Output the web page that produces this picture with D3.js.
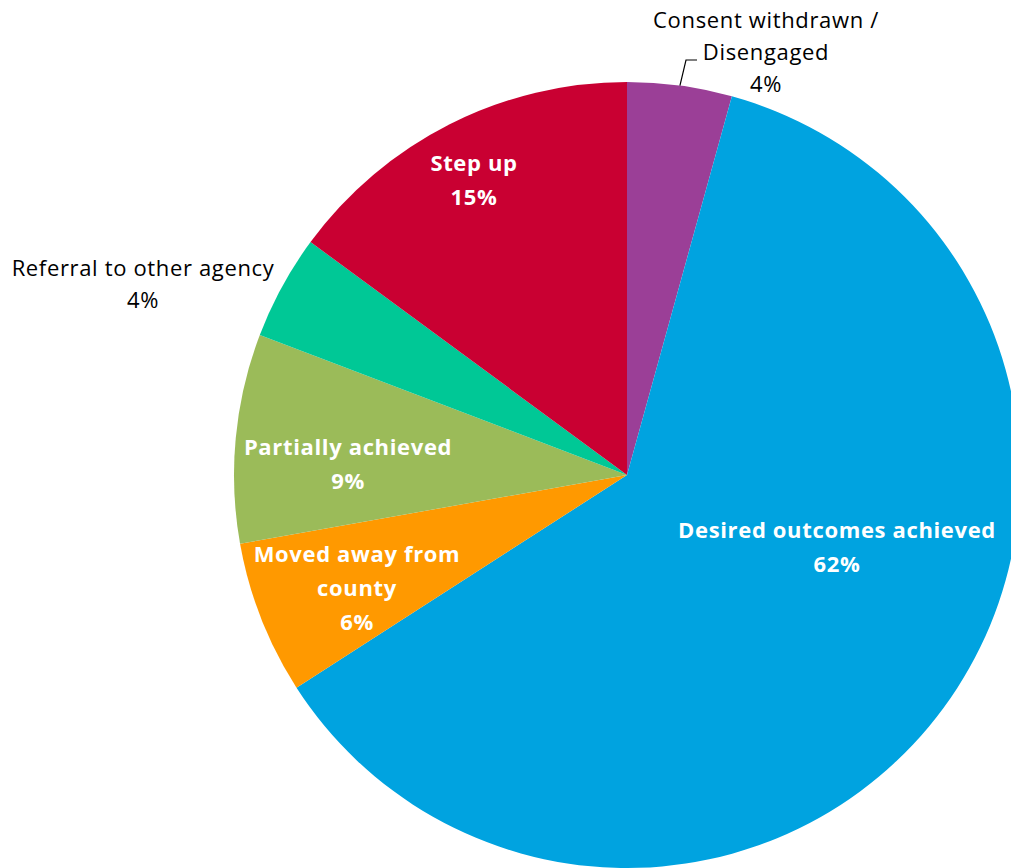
<!DOCTYPE html>
<html><head><meta charset="utf-8">
<script src="https://cdn.jsdelivr.net/npm/d3@7"></script>
<style>body{margin:0;background:#fff;} svg{display:block;} text{font-family:"Open Sans", Lato, sans-serif;}</style>
</head><body>
<svg id="chart" width="1011" height="868"></svg>
<script>
const categories = ["Consent withdrawn / Disengaged","Desired outcomes achieved","Moved away from county","Partially achieved","Referral to other agency","Step up"];
const values = [4.3, 61.6, 6.3, 8.6, 4.3, 14.9];
const colors = ["#9B3F97","#00A3E0","#FF9900","#9BBB59","#00C896","#C90032"];
const labelLines = [["Consent withdrawn /","Disengaged"],["Desired outcomes achieved"],["Moved away from","county"],["Partially achieved"],["Referral to other agency"],["Step up"]];

const svg = d3.select("#chart");
const cx = 627, cy = 475, R = 393;
const total = d3.sum(values);
const data = categories.map((c,i)=>({c, v:values[i], col:colors[i], lines:labelLines[i]}));
const pie = d3.pie().value(d=>d.v).sort(null);
const arcs = pie(data);
const arc = d3.arc().innerRadius(0).outerRadius(R);
const g = svg.append("g").attr("transform",`translate(${cx},${cy})`);
g.selectAll("path").data(arcs).enter().append("path").attr("d",arc).attr("fill",d=>d.data.col);

const layout = [
  {x:766-cx, y:52-cy, inside:false},
  {x:837-cx, y:547-cy, inside:true},
  {x:357-cx, y:588-cy, inside:true},
  {x:348-cx, y:464-cy, inside:true},
  {x:143-cx, y:284-cy, inside:false},
  {x:474-cx, y:180-cy, inside:true}
];
arcs.forEach((a,i)=>{
  const L = layout[i];
  const lh = L.inside ? 34 : 32;
  const lines = a.data.lines.concat([Math.round(a.data.v/total*100)+"%"]);
  const top = L.y - (lines.length-1)*lh/2;
  const t = g.append("text").attr("text-anchor","middle")
    .attr("font-size", 22)
    .attr("letter-spacing", 0.65)
    .attr("font-weight", L.inside ? 700 : 400)
    .attr("fill", L.inside ? "#ffffff" : "#000000");
  lines.forEach((s,j)=>{
    t.append("tspan").attr("x",L.x).attr("y",top + j*lh).attr("dy","0.35em").text(s);
  });
});
const a0 = arcs[0];
const mid = (a0.startAngle + a0.endAngle)/2;
const px = Math.sin(mid)*R, py = -Math.cos(mid)*R;
g.append("path").attr("d",`M${px},${py}L${686-cx},${60-cy}L${697-cx},${60-cy}`)
  .attr("fill","none").attr("stroke","#000").attr("stroke-width",1.2);
</script>
</body></html>
